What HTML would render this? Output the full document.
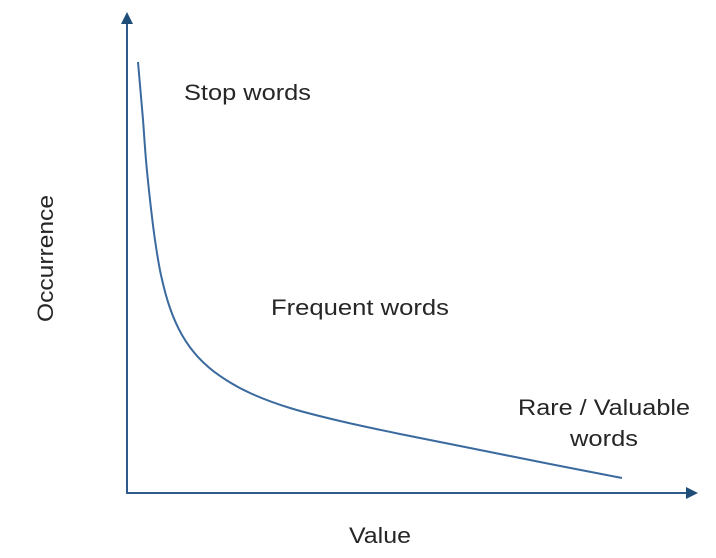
<!DOCTYPE html>
<html><head><meta charset="utf-8"><style>
html,body{margin:0;padding:0;background:#fff;}
svg{display:block;}
text{font-family:"Liberation Sans",sans-serif;fill:#262626;font-size:22px;}
</style></head><body>
<svg width="716" height="558">
<line x1="127" y1="494" x2="127" y2="22" stroke="#2e5a8c" stroke-width="2"/>
<polygon points="127,12 121,24 133,24" fill="#1f4e79"/>
<line x1="126" y1="493" x2="688" y2="493" stroke="#2e5a8c" stroke-width="2"/>
<polygon points="698,493 686,487 686,499" fill="#1f4e79"/>
<path id="curve" fill="none" stroke="#3a6a9e" stroke-width="2"/>
<text x="184" y="100" textLength="127" lengthAdjust="spacingAndGlyphs">Stop words</text>
<text x="271" y="315" textLength="178" lengthAdjust="spacingAndGlyphs">Frequent words</text>
<text x="518" y="415" textLength="172" lengthAdjust="spacingAndGlyphs">Rare / Valuable</text>
<text x="570" y="446" textLength="68" lengthAdjust="spacingAndGlyphs">words</text>
<text x="349" y="543" textLength="62" lengthAdjust="spacingAndGlyphs">Value</text>
<text x="0" y="0" textLength="127" lengthAdjust="spacingAndGlyphs" transform="translate(53,322) rotate(-90)">Occurrence</text>
</svg>
<script>
const xValues=[1.93,2.28,2.81,3.33,4.04,4.91,5.96,7.54,9.65,12.46,16.32,21.58,28.6,37.37,47.89,60.18,74.21,86.84];
const yValues=[90.17,85.36,78.03,69.67,61.3,52.93,45.61,38.7,33.05,28.45,24.48,20.92,17.78,15.06,12.34,9.41,6.07,3.14];
const sx=v=>127+v*5.7;
const sy=v=>493-v*4.78;
const pts=xValues.map((x,i)=>[sx(x),sy(yValues[i])]);
let d="M"+pts[0][0]+","+pts[0][1];
for(let i=0;i<pts.length-1;i++){
 const p0=pts[Math.max(0,i-1)],p1=pts[i],p2=pts[i+1],p3=pts[Math.min(pts.length-1,i+2)];
 const c1=[p1[0]+(p2[0]-p0[0])/6,p1[1]+(p2[1]-p0[1])/6];
 const c2=[p2[0]-(p3[0]-p1[0])/6,p2[1]-(p3[1]-p1[1])/6];
 d+=" C"+c1[0]+","+c1[1]+" "+c2[0]+","+c2[1]+" "+p2[0]+","+p2[1];
}
document.getElementById('curve').setAttribute('d',d);
</script>
</body></html>
